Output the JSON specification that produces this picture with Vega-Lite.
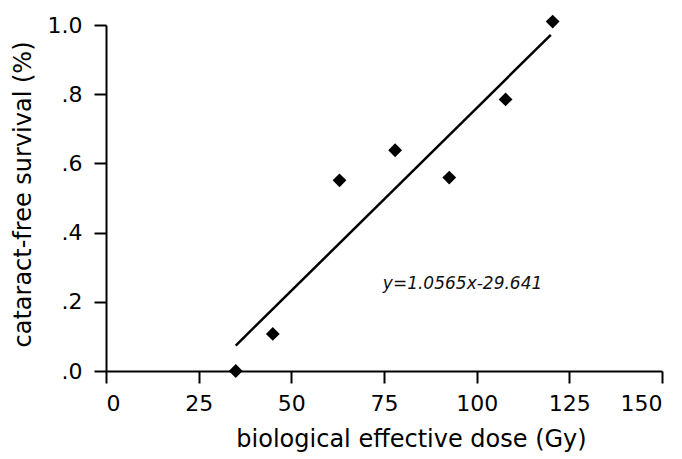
{
  "$schema": "https://vega.github.io/schema/vega-lite/v6.json",
  "width": 556,
  "height": 346,
  "autosize": "none",
  "padding": {"left": 106, "top": 25, "right": 20, "bottom": 88},
  "background": "white",
  "config": {
    "view": {"stroke": null}
  },
  "datasets": {
    "points": [
      {"dose": 35, "survival": 0.0},
      {"dose": 45, "survival": 0.107},
      {"dose": 63, "survival": 0.551},
      {"dose": 78, "survival": 0.638},
      {"dose": 92.6, "survival": 0.559},
      {"dose": 107.8, "survival": 0.785},
      {"dose": 120.5, "survival": 1.01}
    ],
    "fit": [
      {"dose": 35, "survival": 0.0734},
      {"dose": 120, "survival": 0.9714}
    ],
    "note": [
      {"dose": 96.2, "survival": 0.237, "label": "y=1.0565x-29.641"}
    ]
  },
  "layer": [
    {
      "data": {"name": "fit"},
      "mark": {"type": "line", "color": "black", "strokeWidth": 2.5},
      "encoding": {
        "x": {
          "field": "dose", "type": "quantitative",
          "scale": {"domain": [0, 150], "nice": false},
          "axis": {
            "values": [0, 25, 50, 75, 100, 125, 150],
            "title": "biological effective dose (Gy)",
            "grid": false,
            "domainColor": "black",
            "domainWidth": 2,
            "tickColor": "black",
            "tickWidth": 2,
            "tickSize": 12,
            "labelColor": "black",
            "titleColor": "black",
            "labelFont": "DejaVu Sans",
            "titleFont": "DejaVu Sans",
            "labelFontSize": 22,
            "titleFontSize": 24,
            "titleFontWeight": "normal",
            "labelPadding": 10,
            "titlePadding": 13,
            "titleX": 305,
            "titleAlign": "center"
          }
        },
        "y": {
          "field": "survival", "type": "quantitative",
          "scale": {"domain": [0, 1], "nice": false},
          "axis": {
            "values": [0, 0.2, 0.4, 0.6, 0.8, 1],
            "labelExpr": "datum.value >= 1 ? '1.0' : replace(format(datum.value, '.1f'), '0.', '.')",
            "title": "cataract-free survival (%)",
            "grid": false,
            "domainColor": "black",
            "domainWidth": 2,
            "tickColor": "black",
            "tickWidth": 2,
            "tickSize": 12,
            "labelColor": "black",
            "titleColor": "black",
            "labelFont": "DejaVu Sans",
            "titleFont": "DejaVu Sans",
            "labelFontSize": 22,
            "titleFontSize": 24,
            "titleFontWeight": "normal",
            "labelPadding": 12,
            "titlePadding": 12,
            "titleY": 169,
            "titleAlign": "center"
          }
        }
      }
    },
    {
      "data": {"name": "points"},
      "mark": {"type": "point", "shape": "diamond", "filled": true, "color": "black", "size": 190, "opacity": 1},
      "encoding": {
        "x": {"field": "dose", "type": "quantitative"},
        "y": {"field": "survival", "type": "quantitative"}
      }
    },
    {
      "data": {"name": "note"},
      "mark": {"type": "text", "font": "DejaVu Sans", "fontStyle": "italic", "fontSize": 17, "align": "center", "baseline": "alphabetic", "color": "#111"},
      "encoding": {
        "x": {"field": "dose", "type": "quantitative"},
        "y": {"field": "survival", "type": "quantitative"},
        "text": {"field": "label"}
      }
    }
  ]
}
